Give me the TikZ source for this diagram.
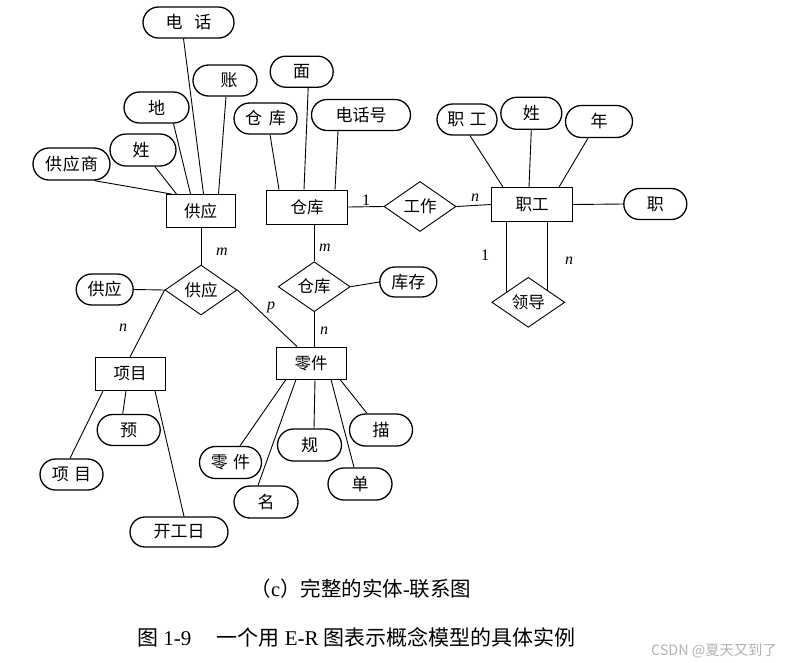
\documentclass[tikz,border=0pt]{standalone}
\usepackage{fontspec}
\setmainfont{Liberation Serif}
\newfontfamily\cjk{Noto Sans CJK SC}
\usetikzlibrary{shapes.geometric,shapes.misc}
\begin{document}
\begin{tikzpicture}[x=1pt,y=-1pt,
 attr/.style={draw, rounded rectangle, line width=1.3pt, minimum height=31pt, inner sep=0pt, font=\cjk\fontsize{17}{17}\selectfont},
 ent/.style={draw, rectangle, line width=0.9pt, inner sep=0pt, minimum height=33pt, font=\cjk\fontsize{16.5}{17}\selectfont},
 rel/.style={draw, diamond, line width=0.9pt, inner sep=0pt, minimum width=72pt, minimum height=50pt, font=\cjk\fontsize{16.5}{17}\selectfont},
 conn/.style={line width=0.9pt},
 card/.style={font=\fontsize{16}{16}\selectfont\itshape, inner sep=0pt},
 one/.style={font=\fontsize{16}{16}\selectfont, inner sep=0pt},
]
\fill[white] (0,0) rectangle (786,662);
\useasboundingbox (0,0) rectangle (786,662);

% ---------- entities ----------
\node[ent, minimum width=69pt] (sup) at (200.5,211) {供应};
\node[ent, minimum width=81pt, minimum height=34pt] (wh) at (307,207) {仓库};
\node[ent, minimum width=81pt, minimum height=34pt] (emp) at (532,204.5) {职工};
\node[ent, minimum width=70pt] (proj) at (130,374) {项目};
\node[ent, minimum width=70pt, minimum height=32pt] (part) at (311,363) {零件};

% ---------- relationships ----------
\node[rel, minimum width=72pt] (work) at (420,206.5) {工作};
\node[rel, minimum width=73pt] (lead) at (528.3,302.3) {领导};
\node[rel] (supr) at (201,290) {供应};
\node[rel] (whr) at (314.2,286.7) {仓库};

% ---------- attributes ----------
\node[attr, minimum width=91pt] (tel) at (188.5,22.5) {电\hspace{0.7em}话};
\node[attr, minimum width=64pt] (acct) at (225,80.5) {\hspace{8pt}账};
\node[attr, minimum width=65pt] (addr) at (156.5,107.5) {地};
\node[attr, minimum width=66pt, minimum height=32pt] (sname) at (143,150) {\hspace{-4pt}姓};
\node[attr, minimum width=77pt, minimum height=32pt] (supname) at (71.5,164) {供\hspace{1pt}应\hspace{1pt}商};

\node[attr, minimum width=63pt] (whname) at (265.5,118.5) {仓\hspace{0.4em}库};
\node[attr, minimum width=63pt] (area) at (301.7,71.7) {面};
\node[attr, minimum width=99pt] (whtel) at (361,115) {电话号};

\node[attr, minimum width=60pt] (eno) at (467,119.5) {职\hspace{0.3em}工};
\node[attr, minimum width=61pt, minimum height=32pt] (ename) at (531.3,113.3) {姓};
\node[attr, minimum width=67pt, minimum height=32pt] (eage) at (599,121.5) {年};
\node[attr, minimum width=63pt] (etitle) at (655.3,204) {职};

\node[attr, minimum width=57pt] (supattr) at (104.7,289.5) {供应};
\node[attr, minimum width=57pt, minimum height=30pt] (stock) at (408.3,282) {库存};

\node[attr, minimum width=63pt] (budget) at (128.7,430) {预};
\node[attr, minimum width=63pt] (pno) at (71.5,474.5) {项\hspace{0.3em}目};
\node[attr, minimum width=98pt, minimum height=30pt] (pdate) at (179,532) {开工日};

\node[attr, minimum width=62pt, minimum height=32pt] (partno) at (230.5,462.5) {零\hspace{0.3em}件};
\node[attr, minimum width=64pt, minimum height=32pt] (pname) at (266,502) {名};
\node[attr, minimum width=64pt, minimum height=32pt] (spec) at (309.5,445) {规};
\node[attr, minimum width=64pt, minimum height=32pt] (price) at (360,484) {单};
\node[attr, minimum width=63pt, minimum height=32pt] (desc) at (381,430) {描};

% ---------- attribute connectors ----------
\draw[conn] ([xshift=-5pt]tel.south) -- ([xshift=3pt]sup.north);
\draw[conn] ([xshift=1pt]acct.south) -- ([xshift=18pt]sup.north);
\draw[conn] ([xshift=17pt]addr.south) -- ([xshift=-10pt]sup.north);
\draw[conn] ([xshift=12pt]sname.south) -- ([xshift=-24pt]sup.north);
\draw[conn] ([xshift=23pt]supname.south) -- ([xshift=-29pt]sup.north);

\draw[conn] ([xshift=4.5pt]whname.south) -- ([xshift=-28pt]wh.north);
\draw[conn] ([xshift=6.5pt]area.south) -- ([xshift=-3pt]wh.north);
\draw[conn] ([xshift=-23pt]whtel.south) -- ([xshift=28pt]wh.north);

\draw[conn] ([xshift=3pt]eno.south) -- ([xshift=-29pt]emp.north);
\draw[conn] (ename.south) -- ([xshift=-3pt]emp.north);
\draw[conn] ([xshift=-11pt]eage.south) -- ([xshift=27pt]emp.north);
\draw[conn] (emp.east) -- (etitle.west);

\draw[conn] (supattr.east) -- (supr.west);
\draw[conn] (whr.east) -- (stock.west);

\draw[conn] ([xshift=-4pt]proj.south) -- ([xshift=-6pt]budget.north);
\draw[conn] ([xshift=-27pt]proj.south) -- ([xshift=-1.5pt]pno.north);
\draw[conn] ([xshift=25pt]proj.south) -- ([xshift=5pt]pdate.north);

\draw[conn] ([xshift=-25pt]part.south) -- ([xshift=9.5pt]partno.north);
\draw[conn] ([xshift=-15pt]part.south) -- ([xshift=-8pt]pname.north);
\draw[conn] ([xshift=4pt]part.south) -- ([xshift=4.5pt]spec.north);
\draw[conn] ([xshift=20pt]part.south) -- ([xshift=-6pt]price.north);
\draw[conn] ([xshift=29pt]part.south) -- ([xshift=-14pt]desc.north);

% ---------- relationship connectors ----------
\draw[conn] (wh.east) -- (work.west);
\draw[conn] (work.east) -- (emp.west);
\draw[conn] (lead.155) -- (lead.155 |- emp.south);
\draw[conn] (lead.32) -- (lead.32 |- emp.south);
\draw[conn] (sup.south -| supr.north) -- (supr.north);
\draw[conn] (supr.west) -- (proj.north);
\draw[conn] (supr.east) -- ([xshift=-14pt]part.north);
\draw[conn] (whr.north |- wh.south) -- (whr.north);
\draw[conn] (whr.south) -- (whr.south |- part.north);

% ---------- cardinalities ----------
\node[one] (c1) at (366,200) {1};
\node[card] (c2) at (475,198) {n};
\node[one] (c3) at (485,255) {1};
\node[card] (c4) at (569,261) {n};
\node[card] (c5) at (222,252) {m};
\node[card] (c6) at (123,328) {n};
\node[card] (c7) at (271,307) {p};
\node[card] (c8) at (325,248) {m};
\node[card] (c9) at (324,331) {n};

% ---------- captions ----------
\node[inner sep=0pt, font=\fontsize{20.5}{20.5}\selectfont] (cap1) at (361,589) {{\cjk （}c{\cjk ）完整的实体}-{\cjk 联系图}};
\node[inner sep=0pt, font=\fontsize{21}{21}\selectfont] (cap2) at (356.5,637.5) {{\cjk 图} 1-9\hspace{1.2em}{\cjk 一个用} E-R {\cjk 图表示概念模型的具体实例}};
\node[inner sep=0pt, text=black!30, font=\fontsize{14.3}{14.3}\selectfont] (wm) at (714,651) {{\cjk CSDN @夏天又到了}};
\end{tikzpicture}
\end{document}
